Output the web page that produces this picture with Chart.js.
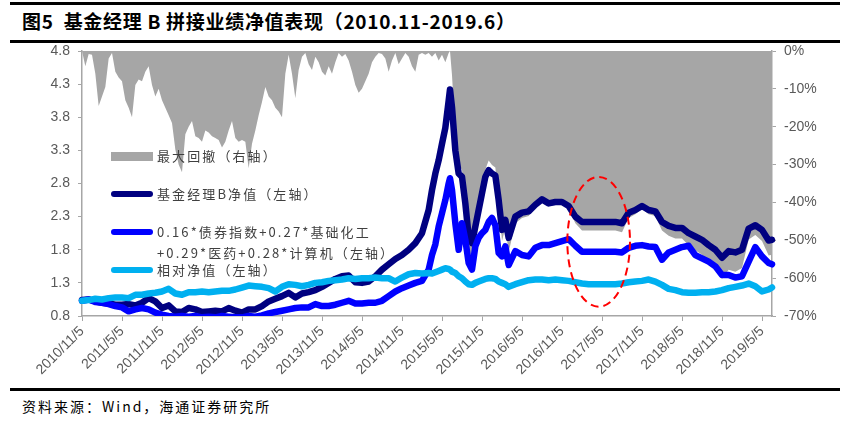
<!DOCTYPE html>
<html>
<head>
<meta charset="utf-8">
<script src="https://cdn.jsdelivr.net/npm/chart.js@4.4.1/dist/chart.umd.min.js"></script>
<style>
    body { margin: 0; background: #fff; }
    #page { position: relative; width: 850px; height: 421px; overflow: hidden; font-family: "Noto Sans CJK SC", "Liberation Sans", sans-serif; }
    .rule { position: absolute; left: 10px; width: 830px; height: 3px; background: #000; }
    #title { position: absolute; left: 22px; top: 7px; font-size: 19px; font-weight: 700; color: #000; letter-spacing: 0.7px; white-space: nowrap; }
    #source { position: absolute; left: 22px; top: 396px; font-size: 14px; color: #000; letter-spacing: 2px; white-space: nowrap; }
    #wrap { position: absolute; left: 0; top: 45px; width: 850px; height: 340px; }
    .sw { position: absolute; left: 111px; width: 42px; }
    .sw.line { height: 6px; border-radius: 3px; }
    .lt { position: absolute; left: 157px; font-size: 13px; line-height: 18px; color: #404040; letter-spacing: 2.1px; white-space: nowrap; }
</style>
</head>
<body>
<div id="page">
    <div class="rule" style="top:2px"></div>
    <div id="title">图5&nbsp;&nbsp;基金经理 B 拼接业绩净值表现（2010.11-2019.6）</div>
    <div class="rule" style="top:40px"></div>
    <div id="wrap"><canvas id="chart" width="850" height="340"></canvas></div>

    <div class="sw" style="top:152px;height:9px;background:#A6A6A6"></div>
    <div class="lt" style="top:147px">最大回撤（右轴）</div>
    <div class="sw line" style="top:191px;background:#000080"></div>
    <div class="lt" style="top:185px">基金经理B净值（左轴）</div>
    <div class="sw line" style="top:229px;background:#0000FF"></div>
    <div class="lt" style="top:223px">0.16*债券指数+0.27*基础化工</div>
    <div class="lt" style="top:244px">+0.29*医药+0.28*计算机（左轴）</div>
    <div class="sw line" style="top:267px;background:#00B0F0"></div>
    <div class="lt" style="top:261px">相对净值（左轴）</div>

    <div class="rule" style="top:388px"></div>
    <div id="source">资料来源：Wind，海通证券研究所</div>
</div>
<script>
// x values are months counted from 2010/11/5
const tickMonths = [0, 6, 12, 18, 24, 30, 36, 42, 48, 54, 60, 66, 72, 78, 84, 90, 96, 102];
const tickLabels = ["2010/11/5", "2011/5/5", "2011/11/5", "2012/5/5", "2012/11/5", "2013/5/5",
    "2013/11/5", "2014/5/5", "2014/11/5", "2015/5/5", "2015/11/5", "2016/5/5",
    "2016/11/5", "2017/5/5", "2017/11/5", "2018/5/5", "2018/11/5", "2019/5/5"];
const leftTicks = [0.8, 1.3, 1.8, 2.3, 2.8, 3.3, 3.8, 4.3, 4.8];
const rightTicks = [-70, -60, -50, -40, -30, -20, -10, 0];

const lineMonths = [
    0, 1, 2, 3, 4, 5, 6, 7, 8, 9, 10, 11, 12, 13, 14, 15, 16, 17, 18, 19,
    20, 21, 22, 23, 24, 25, 26, 27, 28, 29, 30, 31, 32, 33, 34, 35, 36, 37, 38, 39,
    40, 41, 42, 43, 44, 45, 46, 47, 48, 49, 50, 51,
    52, 52.5, 53, 53.5, 54, 54.5, 55, 55.2, 55.5, 56, 56.5, 57, 57.5, 58, 58.5,
    59, 59.5, 60, 60.5, 61, 61.5, 62, 62.5, 63, 63.5, 64,
    65, 66, 67, 68, 69, 70, 71, 72, 73, 74, 75, 76, 77, 78, 79, 80, 81, 82, 83, 84,
    85, 86, 87, 88, 89, 90, 91, 92, 93, 94, 95, 96, 97, 98, 99, 100, 101, 102, 103, 103.5
];

const navManagerB = [
    1.04, 1.05, 1.02, 1.00, 0.99, 0.97, 0.97, 0.98, 0.96, 1.00,
    1.07, 1.02, 0.92, 0.96, 0.87, 0.86, 0.92, 0.90, 0.86, 0.87,
    0.88, 0.87, 0.92, 0.88, 0.85, 0.90, 0.90, 0.95, 1.02, 1.06,
    1.10, 1.15, 1.08, 1.14, 1.16, 1.19, 1.24, 1.30, 1.36, 1.40,
    1.41, 1.31, 1.30, 1.32, 1.40, 1.50, 1.58, 1.66, 1.72, 1.80,
    1.90, 2.05,
    2.40, 2.70, 2.95, 3.15, 3.40, 3.64, 4.05, 4.22, 3.95, 3.30, 2.95, 2.90, 2.50, 2.00, 1.90,
    2.15, 2.40, 2.65, 2.90, 3.00, 2.95, 2.92, 2.55, 2.10, 2.25, 1.98,
    2.30, 2.36, 2.38, 2.48, 2.56, 2.50, 2.52, 2.52, 2.46, 2.30,
    2.22, 2.22, 2.22, 2.22, 2.22, 2.22, 2.20, 2.36, 2.40, 2.46,
    2.40, 2.38, 2.22, 2.16, 2.13, 2.13, 2.05, 2.00, 1.95, 1.87,
    1.80, 1.68, 1.78, 1.76, 1.80, 2.12, 2.17, 2.10, 1.94, 1.95
];

const navBenchmark = [
    1.03, 1.05, 1.01, 1.00, 0.98, 0.95, 0.93, 0.87, 0.90, 0.92,
    0.90, 0.85, 0.82, 0.80, 0.79, 0.80, 0.79, 0.80, 0.78, 0.79,
    0.78, 0.80, 0.79, 0.78, 0.78, 0.80, 0.79, 0.81, 0.84, 0.86,
    0.88, 0.90, 0.92, 0.93, 0.93, 0.98, 0.95, 0.95, 0.97, 1.00,
    1.03, 0.99, 0.99, 1.00, 1.00, 1.03, 1.10, 1.17, 1.22, 1.26,
    1.30, 1.33,
    1.50, 1.72, 1.88, 2.15, 2.35, 2.55, 2.80, 2.88, 2.70, 2.20, 1.80, 2.20, 1.95, 1.60, 1.50,
    1.85, 1.98, 2.05, 2.10, 2.22, 2.28, 2.17, 1.75, 1.70, 1.85, 1.57,
    1.78, 1.72, 1.70, 1.83, 1.87, 1.87, 1.90, 1.93, 1.96, 1.86,
    1.77, 1.77, 1.77, 1.77, 1.77, 1.77, 1.76, 1.83, 1.86, 1.87,
    1.85, 1.84, 1.65, 1.76, 1.80, 1.84, 1.86, 1.72, 1.67, 1.62,
    1.55, 1.42, 1.42, 1.38, 1.40, 1.62, 1.84, 1.70, 1.60, 1.58
];

const navRelative = [
    1.03, 1.04, 1.06, 1.05, 1.07, 1.08, 1.08, 1.07, 1.12, 1.12,
    1.14, 1.15, 1.17, 1.21, 1.14, 1.12, 1.16, 1.16, 1.17, 1.16,
    1.17, 1.18, 1.18, 1.20, 1.23, 1.26, 1.25, 1.24, 1.22, 1.17,
    1.24, 1.28, 1.27, 1.25, 1.27, 1.30, 1.31, 1.33, 1.34, 1.35,
    1.37, 1.36, 1.37, 1.37, 1.38, 1.37, 1.37, 1.32, 1.38, 1.43,
    1.45, 1.44,
    1.45, 1.44, 1.46, 1.48, 1.50, 1.52, 1.51, 1.50, 1.47, 1.45, 1.40, 1.37, 1.32, 1.28, 1.27,
    1.30, 1.32, 1.34, 1.36, 1.37, 1.37, 1.36, 1.32, 1.30, 1.28, 1.24,
    1.28, 1.31, 1.34, 1.35, 1.35, 1.34, 1.35, 1.34, 1.33, 1.31,
    1.29, 1.28, 1.28, 1.28, 1.28, 1.28, 1.29, 1.31, 1.32, 1.33,
    1.35, 1.32, 1.27, 1.21, 1.19, 1.16, 1.15, 1.15, 1.16, 1.16,
    1.17, 1.19, 1.22, 1.24, 1.26, 1.29, 1.25, 1.17, 1.20, 1.23
];

// max drawdown (%), half-month steps up to the 2015 peak
const drawdownEarly = [
    0, -4.0, -0.8, -1.0, -6.0, -14.5, -12.0, -9.5, -2.0, -0.5,
    -5.5, -7.0, -8.0, -13.0, -15.0, -17.5, -9.0, -7.5, -8.0, -5.5,
    -4.0, -9.0, -12.0, -10.0, -13.0, -15.0, -17.0, -19.0, -26.0, -30.0,
    -32.0, -22.0, -20.0, -18.5, -22.5, -23.0, -24.0, -21.0, -21.5, -22.5,
    -23.0, -23.5, -25.5, -24.0, -21.0, -18.5, -23.0, -24.0, -23.5, -24.0,
    -31.0, -24.5, -21.0, -17.0, -13.5, -9.5, -12.0, -13.0, -15.0, -16.0,
    -17.5, -6.0, -1.0, -6.0, -12.5, -5.0, -1.5, -0.5, -3.5, -5.0,
    -1.5, -3.0, -5.5, -6.5, -4.0, -6.0, -3.0, -0.5, -1.5, -0.8,
    -2.5, -5.5, -9.0, -11.0, -10.0, -8.0, -6.0, -3.0, -1.5, -0.5,
    -0.8, -2.0, -5.5, -2.5, -0.5, -3.5, -2.0, -0.5, -1.5, -4.0,
    -5.5, -1.0, -0.5, -1.0, -0.5, -1.5, -0.5, -2.5, -1.0, -3.0,
    -0.5
];
// max drawdown (%) from the 2015 peak on, at lineMonths >= 55.2
const drawdownLate = [
    0, -6.4, -21.8, -30.1, -31.3, -40.8, -52.6, -55.0, -49.1, -43.1,
    -37.2, -31.3, -28.9, -30.1, -30.8, -39.6, -50.2, -46.7, -53.1,
    -45.5, -44.1, -43.6, -41.2, -39.3, -40.8, -40.3, -40.3, -41.7, -45.5,
    -47.4, -47.4, -47.4, -47.4, -47.4, -47.4, -47.9, -44.1, -43.1, -41.7,
    -43.1, -43.6, -47.4, -48.8, -49.5, -49.5, -51.4, -52.6, -53.8, -55.7,
    -57.3, -60.2, -57.8, -58.3, -57.3, -49.8, -48.6, -50.2, -54.0, -53.8
];

// red dashed ring around the flat 2017 stretch
const ringMonth = 77.5;
const ringHalfMonths = 4.7;
const ringValue = 1.92;
const ringHalfValue = 0.98;

const pairs = (xs, ys) => ys.map((v, i) => ({ x: xs[i], y: v }));
const lateMonths = lineMonths.filter((m) => m >= 55.2);
const drawdownPoints = drawdownEarly.map((v, i) => ({ x: i / 2, y: v }))
    .concat(pairs(lateMonths, drawdownLate));

const axisGray = "#A6A6A6";
const tickFont = { family: "'Liberation Sans', Arial, sans-serif", size: 14 };

const lineSet = (data, color, order) => ({
    data,
    yAxisID: "y",
    borderColor: color,
    borderWidth: 6.5,
    borderCapStyle: "round",
    borderJoinStyle: "round",
    pointRadius: 0,
    tension: 0,
    fill: false,
    order,
    clip: { left: 4, top: 4, right: 4, bottom: 0 },
});

const ringPlugin = {
    id: "ring",
    afterDatasetsDraw(chart) {
        const { ctx, scales } = chart;
        const cx = scales.x.getPixelForValue(ringMonth);
        const cy = scales.y.getPixelForValue(ringValue);
        const rx = scales.x.getPixelForValue(ringMonth + ringHalfMonths) - cx;
        const ry = scales.y.getPixelForValue(ringValue - ringHalfValue) - cy;
        ctx.save();
        ctx.strokeStyle = "#FF0000";
        ctx.lineWidth = 2;
        ctx.setLineDash([8, 5]);
        ctx.beginPath();
        ctx.ellipse(cx, cy, rx, ry, 0, 0, Math.PI * 2);
        ctx.stroke();
        ctx.restore();
    },
};

new Chart(document.getElementById("chart").getContext("2d"), {
    type: "line",
    data: {
        datasets: [
            lineSet(pairs(lineMonths, navRelative), "#00B0F0", 0),
            lineSet(pairs(lineMonths, navBenchmark), "#0000FF", 1),
            lineSet(pairs(lineMonths, navManagerB), "#000080", 2),
            {
                data: drawdownPoints,
                yAxisID: "y1",
                borderWidth: 0,
                backgroundColor: "#A6A6A6",
                pointRadius: 0,
                tension: 0,
                fill: "origin",
                order: 3,
            },
        ],
    },
    options: {
        responsive: false,
        animation: false,
        layout: { padding: { top: 6, left: 0, right: 0, bottom: 0 } },
        plugins: { legend: { display: false }, tooltip: { enabled: false } },
        scales: {
            x: {
                type: "linear",
                min: 0,
                max: 103.5,
                afterBuildTicks: (s) => { s.ticks = tickMonths.map((v) => ({ value: v })); },
                afterFit: (s) => { s.height = 69; s.paddingLeft = 0; s.paddingRight = 0; },
                ticks: {
                    autoSkip: false,
                    minRotation: 45,
                    maxRotation: 45,
                    padding: 2,
                    color: "#595959",
                    font: tickFont,
                    callback: (v) => tickLabels[tickMonths.indexOf(v)],
                },
                grid: { drawOnChartArea: false, tickLength: 5, color: axisGray },
                border: { color: axisGray, width: 1.5 },
            },
            y: {
                position: "left",
                min: 0.8,
                max: 4.8,
                afterBuildTicks: (s) => { s.ticks = leftTicks.map((v) => ({ value: v })); },
                afterFit: (s) => { s.width = 82; s.paddingTop = 0; s.paddingBottom = 0; },
                ticks: { padding: 8, color: "#595959", font: tickFont, callback: (v) => v.toFixed(1) },
                grid: { drawOnChartArea: false, tickLength: 4, color: axisGray },
                border: { color: axisGray, width: 1.5 },
            },
            y1: {
                position: "right",
                min: -70,
                max: 0,
                afterBuildTicks: (s) => { s.ticks = rightTicks.map((v) => ({ value: v })); },
                afterFit: (s) => { s.width = 78; s.paddingTop = 0; s.paddingBottom = 0; },
                ticks: { padding: 8, color: "#595959", font: tickFont, callback: (v) => v + "%" },
                grid: { drawOnChartArea: false, tickLength: 4, color: axisGray },
                border: { color: axisGray, width: 1.5 },
            },
        },
    },
    plugins: [ringPlugin],
});
</script>
</body>
</html>
